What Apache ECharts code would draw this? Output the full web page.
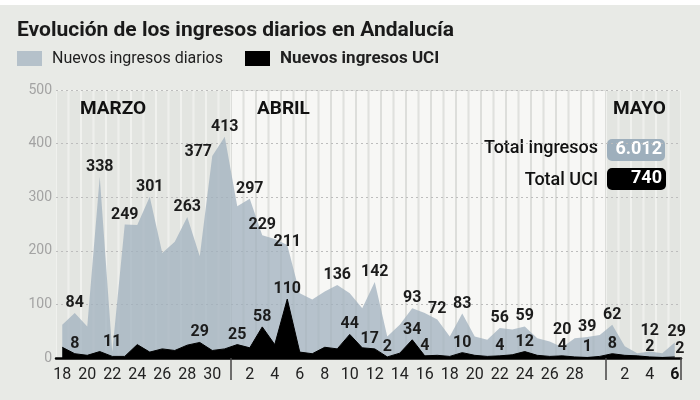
<!DOCTYPE html>
<html style="height: 100%">
<head>
    <meta charset="utf-8">
    <script src="https://cdn.jsdelivr.net/npm/echarts@6/dist/echarts.min.js"></script>
</head>
<body style="height: 100%; margin: 0; background: #e8eae6">
<div id="container" style="width: 700px; height: 400px"></div>

<script type="text/javascript">
    // dias del eje x, por mes
    var diasMarzo = ['18', '19', '20', '21', '22', '23', '24', '25', '26', '27', '28', '29', '30', '31'];
    var diasAbril = ['1', '2', '3', '4', '5', '6', '7', '8', '9', '10', '11', '12', '13', '14', '15',
        '16', '17', '18', '19', '20', '21', '22', '23', '24', '25', '26', '27', '28', '29', '30'];
    var diasMayo = ['1', '2', '3', '4', '5', '6'];

    // nuevos ingresos diarios (hospital)
    var ingresos = [62, 84, 59, 338, 11, 249, 248, 301, 196, 217, 263, 190, 377, 413,
        283, 297, 229, 222, 211, 121, 109, 124, 136, 121, 93, 142, 40, 62, 93, 84,
        72, 40, 83, 40, 34, 56, 53, 59, 37, 31, 20, 37, 39, 43,
        62, 22, 9, 12, 9, 29];
    // nuevos ingresos UCI
    var uci = [20, 8, 5, 12, 3, 3, 25, 11, 17, 14, 24, 29, 14, 17,
        25, 19, 58, 25, 110, 11, 8, 20, 17, 44, 19, 17, 2, 9, 34, 4,
        5, 3, 10, 5, 3, 4, 6, 12, 5, 3, 4, 2, 1, 3,
        8, 5, 4, 2, 1, 2];

    // puntos con etiqueta numerica
    var etiquetasIngresos = [1, 3, 4, 5, 7, 10, 12, 13, 15, 16, 18, 22, 25, 28, 30, 32, 35, 37, 40, 42, 44, 47, 49];
    var etiquetasUci = [1, 11, 14, 16, 18, 23, 25, 26, 28, 29, 32, 35, 37, 40, 42, 44, 47, 49];
    // desplazamientos puntuales de etiquetas [dx, dy]
    var ajusteIngresos = {12: [-14, 6], 18: [0, 7], 40: [0, -7], 47: [0, -11], 49: [2, 0]};
    var ajusteUci = {25: [-5, 0], 49: [5, 2]};

    // etiquetas visibles del eje x
    var etiquetasX = ['18 mar', '20 mar', '22 mar', '24 mar', '26 mar', '28 mar', '30 mar',
        '2 abr', '4 abr', '6 abr', '8 abr', '10 abr', '12 abr', '14 abr', '16 abr', '18 abr',
        '20 abr', '22 abr', '24 abr', '26 abr', '28 abr',
        '2 may', '4 may', '6 may'];

    var totalIngresos = '6.012';
    var totalUci = '740';

    var categorias = diasMarzo.map(function (d) { return d + ' mar'; })
        .concat(diasAbril.map(function (d) { return d + ' abr'; }))
        .concat(diasMayo.map(function (d) { return d + ' may'; }));

    var dom = document.getElementById("container");
    var myChart = echarts.init(dom);

    var fondo = categorias.map(function (c) {
        var abril = c.indexOf('abr') > 0;
        return {
            value: 500,
            itemStyle: {
                color: abril ? '#f7f7f5' : '#e3e5e1',
                borderColor: abril ? '#dddedb' : '#f0f1ee'
            }
        };
    });

    function conEtiquetas(valores, marcados, ajustes) {
        return valores.map(function (v, i) {
            if (marcados.indexOf(i) < 0) return v;
            return {
                value: v,
                label: {show: true, offset: ajustes[i] || [0, 0]}
            };
        });
    }

    var etiqueta = {
        show: false,
        position: 'top',
        distance: 2,
        color: '#1c1c1c',
        fontFamily: 'Roboto',
        fontWeight: 'bold',
        fontSize: 16
    };

    var option = {
        backgroundColor: '#e8eae6',
        animation: false,
        textStyle: {fontFamily: 'Roboto'},
        title: {
            text: 'Evolución de los ingresos diarios en Andalucía',
            left: 12,
            top: 15,
            textStyle: {fontSize: 21, fontWeight: 'bold', color: '#1a1a1a', fontFamily: 'Roboto'}
        },
        legend: {
            left: 12,
            top: 45,
            itemWidth: 25,
            itemHeight: 15,
            itemGap: 22,
            icon: 'rect',
            textStyle: {fontSize: 16, color: '#1f1f1f', padding: [0, 0, 0, 5]},
            data: [
                {name: 'Nuevos ingresos diarios', textStyle: {fontWeight: 'normal'}},
                {name: 'Nuevos ingresos UCI', textStyle: {fontWeight: 'bold', fontSize: 17}}
            ]
        },
        grid: {left: 56, right: 19, top: 90, bottom: 42},
        xAxis: {
            type: 'category',
            data: categorias,
            boundaryGap: true,
            z: 5,
            axisLine: {lineStyle: {color: '#000', width: 2.5}},
            axisTick: {
                show: true,
                length: 22,
                interval: function (i) { return i === 14 || i === 44; },
                lineStyle: {color: '#444', width: 1.5}
            },
            axisLabel: {
                interval: function (i, v) { return etiquetasX.indexOf(v) >= 0; },
                margin: 9,
                fontSize: 16,
                color: '#222',
                formatter: function (v) {
                    var d = v.split(' ')[0];
                    return v === '6 may' ? '{b|' + d + '}' : d;
                },
                rich: {b: {fontWeight: 'bold', fontSize: 16, color: '#111'}}
            },
            splitLine: {show: false}
        },
        yAxis: {
            type: 'value',
            min: 0,
            max: 500,
            interval: 100,
            axisLine: {show: false},
            axisTick: {show: false},
            axisLabel: {color: '#a3a3a3', fontSize: 14, margin: 4},
            splitLine: {lineStyle: {color: '#bdbdbd', type: [2, 3], width: 1}}
        },
        series: [
            { // fondo por meses
                type: 'bar',
                data: fondo,
                barWidth: '100%',
                barCategoryGap: '0%',
                itemStyle: {borderWidth: 1},
                silent: true,
                z: -1,
                animation: false
            },
            {
                name: 'Nuevos ingresos diarios',
                type: 'line',
                data: conEtiquetas(ingresos, etiquetasIngresos, ajusteIngresos),
                symbolSize: 0,
                showSymbol: true,
                itemStyle: {color: '#b5c1ca'},
                lineStyle: {width: 0},
                areaStyle: {color: 'rgba(160,176,189,0.75)', opacity: 1},
                label: etiqueta,
                z: 2
            },
            {
                name: 'Nuevos ingresos UCI',
                type: 'line',
                data: conEtiquetas(uci, etiquetasUci, ajusteUci),
                symbolSize: 0,
                showSymbol: true,
                itemStyle: {color: '#000'},
                lineStyle: {width: 1, color: '#000'},
                areaStyle: {color: '#000', opacity: 1},
                label: etiqueta,
                z: 3
            }
        ],
        graphic: [
            {type: 'rect', left: 0, top: 0, shape: {width: 700, height: 5}, style: {fill: '#ffffff'}},
            {type: 'text', left: 80, top: 100, style: {text: 'MARZO', fontSize: 19, fontWeight: 'bold', fill: '#111', fontFamily: 'Roboto'}},
            {type: 'text', left: 257, top: 100, style: {text: 'ABRIL', fontSize: 19, fontWeight: 'bold', fill: '#111', fontFamily: 'Roboto'}},
            {type: 'text', left: 613, top: 100, style: {text: 'MAYO', fontSize: 19, fontWeight: 'bold', fill: '#111', fontFamily: 'Roboto'}},
            {type: 'text', right: 102, top: 139, style: {text: 'Total ingresos', fontSize: 18, fontWeight: 500, fill: '#111', fontFamily: 'Roboto'}},
            {type: 'rect', left: 607, top: 139, shape: {width: 58, height: 22, r: 5}, style: {fill: '#9eafbc'}},
            {type: 'text', right: 38, top: 140, style: {text: totalIngresos, fontSize: 18, fontWeight: 'bold', fill: '#fff', fontFamily: 'Roboto'}},
            {type: 'text', right: 102, top: 171, style: {text: 'Total UCI', fontSize: 18, fontWeight: 500, fill: '#111', fontFamily: 'Roboto'}},
            {type: 'rect', left: 607, top: 168, shape: {width: 59, height: 22, r: 5}, style: {fill: '#000'}},
            {type: 'text', right: 38, top: 169, style: {text: totalUci, fontSize: 18, fontWeight: 'bold', fill: '#fff', fontFamily: 'Roboto'}}
        ]
    };

    myChart.setOption(option, true);
</script>
</body>
</html>
